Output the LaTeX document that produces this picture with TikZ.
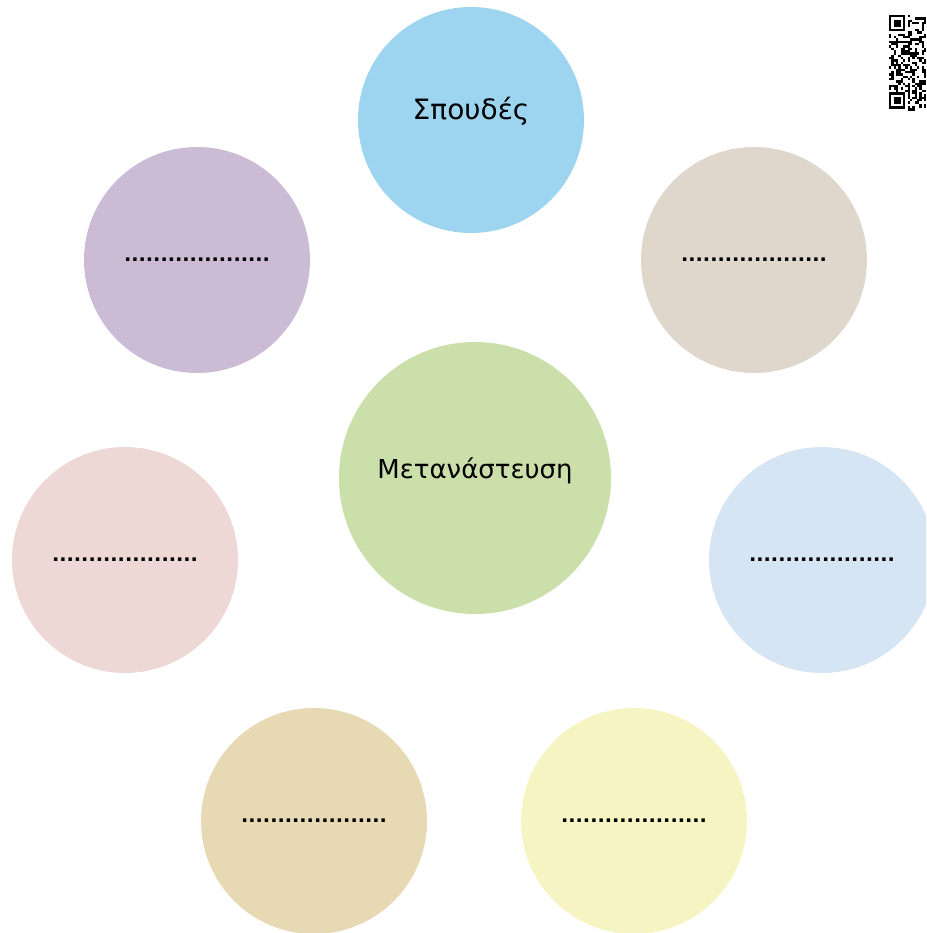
\documentclass[tikz,border=0pt]{standalone}
\usepackage{fontspec}
\setmainfont{DejaVu Sans}
\usetikzlibrary{shapes}

\definecolor{cblue}{HTML}{9DD5F1}
\definecolor{cgreen}{HTML}{CBDFAA}
\definecolor{cpurple}{HTML}{CBBBD5}
\definecolor{cbeige}{HTML}{E0D7CC}
\definecolor{cpink}{HTML}{EED8D6}
\definecolor{clight}{HTML}{D6E5F4}
\definecolor{ctan}{HTML}{E8D9B5}
\definecolor{cyellow}{HTML}{F7F4C3}

\tikzset{
	bubble/.style={circle,draw=none,inner sep=0pt,minimum size=226pt,font=\fontsize{19.2}{23}\selectfont\bfseries},
	word/.style={font=\fontsize{28}{32}\selectfont,text height=20pt,text depth=20pt},
	bigbubble/.style={bubble,minimum size=272pt}
}

\begin{document}
\begin{tikzpicture}[x=1pt,y=-1pt]
		\useasboundingbox (0,0) rectangle (926,933);
		\begin{scope}
		\clip (0,0) rectangle (926,933);
		\node[bubble,word,fill=cblue] (studies) at (471,120) {Σπουδές};
		\node[bigbubble,word,fill=cgreen,font=\fontsize{26}{30}\selectfont] (migration) at (475,478) {Μετανάστευση};
		\foreach \n / \x / \y / \c in {nw/197/260/cpurple,ne/754/260/cbeige,w/125/560/cpink,e/822/560/clight,sw/314/821/ctan,se/634/821/cyellow}
			{ \node[bubble,fill=\c] (\n) at (\x,\y) {....................};}
		% qr code in the corner
		\pgfmathsetseed{7}
		\foreach \i in {0,...,15} { \foreach \j in {0,...,40} {
			\pgfmathparse{rnd>0.5 ? 1 : 0}
			\ifnum\pgfmathresult=1 \fill ({889+2.33*\i},{15+2.33*\j}) rectangle +(2.33,2.33); \fi }}
		\foreach \y in {15,92.3} {
			\fill[white] (889,{\y}) rectangle +(18.6,18.6);
			\fill (889,{\y}) rectangle +(16.3,16.3);
			\fill[white] ({889+2.33},{\y+2.33}) rectangle +(11.65,11.65);
			\fill ({889+4.66},{\y+4.66}) rectangle +(7,7);}
		\end{scope}
	\end{tikzpicture}
\end{document}
